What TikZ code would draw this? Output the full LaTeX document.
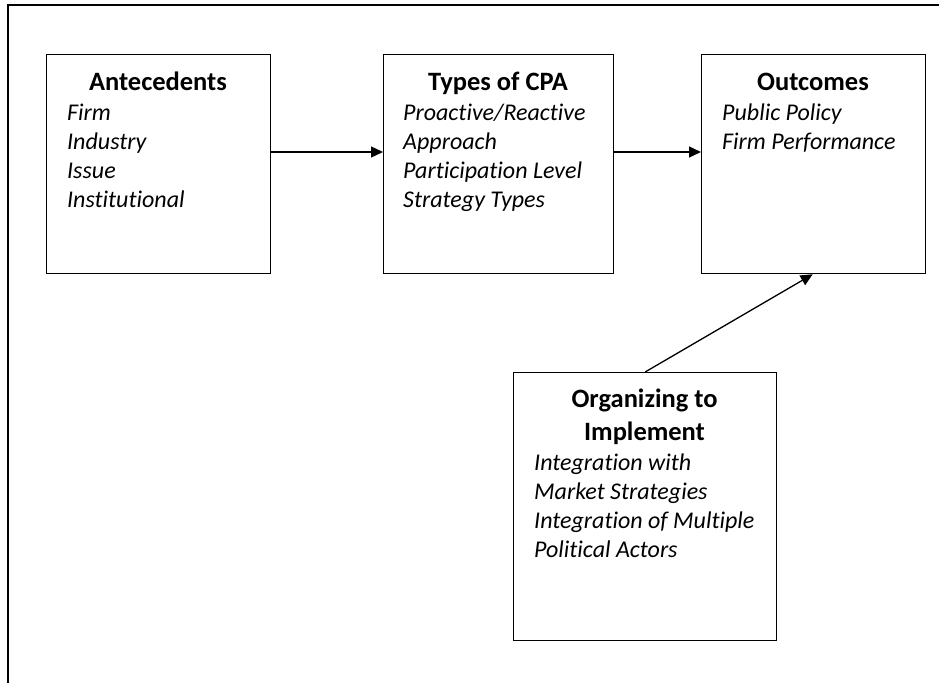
\documentclass[tikz,border=0pt]{standalone}
\usepackage{fontspec}
\setmainfont{Carlito}[Ligatures=NoCommon]
\usetikzlibrary{arrows.meta}
\begin{document}
\begin{tikzpicture}[x=1pt,y=-1pt,
  stagebox/.style={draw=black,line width=1.3pt,inner sep=0pt,anchor=north west},
  headtext/.style={font=\fontsize{26.5}{31}\selectfont\bfseries,inner sep=0pt,anchor=base},
  itemtext/.style={font=\fontsize{24}{29}\selectfont\itshape,inner sep=0pt,anchor=base west},
  flow/.style={line width=1.3pt,-{Triangle[length=12pt,width=11pt]}}]
\useasboundingbox (0,0) rectangle (939,683);
% open frame (top and left edges only)
\draw[line width=1.6pt] (939,5) -- (8,5) -- (8,683);

% stage boxes
\node[stagebox,minimum width=224pt,minimum height=219pt] (ante) at (46,54) {};
\node[stagebox,minimum width=230pt,minimum height=219pt] (types) at (383,54) {};
\node[stagebox,minimum width=224pt,minimum height=219pt] (outc) at (701,54) {};
\node[stagebox,minimum width=263pt,minimum height=268pt] (org) at (513,372) {};

% headings
\node[headtext] (ante-h) at (158,90) {Antecedents};
\node[headtext] (types-h) at (498,90) {Types of CPA};
\node[headtext] (outc-h) at (813,90) {Outcomes};
\node[headtext] (org-h1) at (644.5,407) {Organizing to};
\node[headtext] (org-h2) at (644.5,440) {Implement};

% items
\foreach \t [count=\i] in {Firm,Industry,Issue,Institutional}
  \node[itemtext] (ante-\i) at (67,{120+29*(\i-1)}) {\t};
\foreach \t [count=\i] in {Proactive/Reactive,Approach,Participation Level,Strategy Types}
  \node[itemtext] (types-\i) at (403,{120+29*(\i-1)}) {\t};
\foreach \t [count=\i] in {Public Policy,Firm Performance}
  \node[itemtext] (outc-\i) at (722,{120+29*(\i-1)}) {\t};
\foreach \t [count=\i] in {Integration with,Market Strategies,Integration of Multiple,Political Actors}
  \node[itemtext] (org-\i) at (534,{470+29*(\i-1)}) {\t};

% connectors
\draw[flow] (ante.east |- 0,152) -- (types.west |- 0,152);
\draw[flow] (types.east |- 0,152) -- (outc.west |- 0,152);
\draw[flow] (org.north) -- ([xshift=-1pt]outc.south);
\end{tikzpicture}
\end{document}
